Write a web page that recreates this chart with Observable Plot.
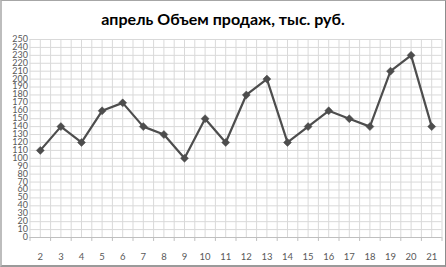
<!DOCTYPE html>
<html>
<head>
<meta charset="utf-8">
<script src="https://cdn.jsdelivr.net/npm/d3@7"></script>
<script src="https://cdn.jsdelivr.net/npm/@observablehq/plot@0.6"></script>
<style>
  html, body { margin: 0; padding: 0; background: #fff; }
  #wrap { position: relative; width: 446px; height: 267px; overflow: hidden; }
  #frame { position: absolute; left: 0; top: 0; width: 443px; height: 264px;
           border-top: 1px solid #a6a6a6; border-left: 2px solid #bdbdbd;
           border-right: 1px solid #8c8c8c; border-bottom: 2px solid #9a9a9a; pointer-events: none; }
  #title { position: absolute; left: 0; top: 9px; width: 446px; text-align: center;
           font-family: Lato, "Open Sans", sans-serif; font-weight: bold; font-size: 16px; color: #000; }
  svg { position: absolute; left: 0; top: 0; }
</style>
</head>
<body>
<div id="wrap">
  <div id="title">апрель Объем продаж, тыс. руб.</div>
</div>
<script>
const days = [2,3,4,5,6,7,8,9,10,11,12,13,14,15,16,17,18,19,20,21];
const sales = [110,140,120,160,170,140,130,100,150,120,180,200,120,140,160,150,140,210,230,140];
const yTicks = d3.range(0, 251, 10);

const data = days.map((d, i) => ({day: d, value: sales[i]}));
const xGrid = d3.range(days[0] - 0.5, days[days.length - 1] + 0.51, 0.5);
const xBounds = d3.range(days[0] - 0.5, days[days.length - 1] + 0.51, 1);

const chart = Plot.plot({
  width: 446,
  height: 267,
  marginLeft: 29.5,
  marginRight: 4.5,
  marginTop: 39,
  marginBottom: 30,
  style: {fontFamily: "Lato, 'Open Sans', sans-serif", fontSize: "9px", color: "#595959", background: "transparent"},
  x: {type: "linear", domain: [days[0] - 0.5, days[days.length - 1] + 0.5], axis: null},
  y: {domain: [0, 250], axis: null},
  marks: [
    Plot.ruleY(yTicks, {y: d => d, stroke: "#d9d9d9", strokeWidth: 1}),
    Plot.ruleX(xGrid, {x: d => d, stroke: "#d9d9d9", strokeWidth: 1}),
    Plot.ruleY([0], {stroke: "#bfbfbf"}),
    Plot.ruleX(xBounds, {x: d => d, y1: 0, y2: -5, stroke: "#bfbfbf", clip: false}),
    Plot.text(yTicks, {x: days[0] - 0.5, y: d => d, text: d => String(d), textAnchor: "end", dx: -2, fill: "#595959", fontSize: 9, lineHeight: 0.85}),
    Plot.text(days, {x: d => d, y: 0, text: d => String(d), dy: 19, fill: "#595959", fontSize: 9.5}),
    Plot.line(data, {x: "day", y: "value", stroke: "#4d4d4d", strokeWidth: 2.2}),
    Plot.dot(data, {x: "day", y: "value", symbol: "diamond2", r: 3.6, fill: "#4d4d4d", stroke: "#4d4d4d", strokeWidth: 0.5})
  ]
});
document.getElementById("wrap").appendChild(chart);
const fr = document.createElement("div");
fr.id = "frame";
document.getElementById("wrap").appendChild(fr);
</script>
</body>
</html>
